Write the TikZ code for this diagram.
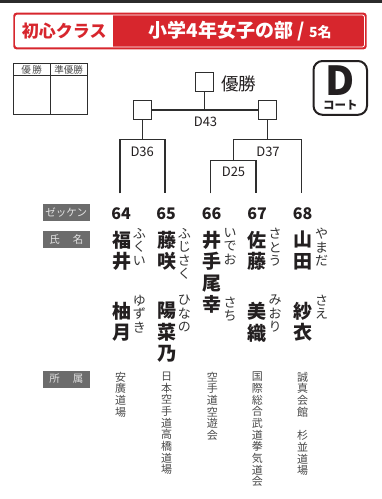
\documentclass[tikz,border=0pt]{standalone}
\usepackage{fontspec}
\setmainfont{Noto Sans CJK JP}
\definecolor{hdrred}{HTML}{D7262D}
\definecolor{topbar}{HTML}{2B2B2B}
\definecolor{tagbg}{HTML}{6C6C6C}
\definecolor{tagfg}{HTML}{E2E2E2}
\definecolor{ink}{HTML}{231F20}
\definecolor{kanac}{HTML}{333333}
\definecolor{affc}{HTML}{4A4A4A}
\definecolor{linec}{HTML}{2E2E2E}
\tikzset{
  wbox/.style={draw=linec, line width=1.2pt, minimum width=18pt, minimum height=19pt, inner sep=0pt, fill=white},
  brk/.style={draw=linec, line width=1.2pt},
  mlabel/.style={font=\fontsize{13}{13}\selectfont, text=ink, inner sep=0pt},
  tagbox/.style={fill=tagbg, text=tagfg, minimum width=47.3pt, minimum height=17pt, inner sep=0pt, font=\fontsize{10.5}{11}\selectfont},
  numtxt/.style={font=\bfseries\fontsize{16}{16}\selectfont, text=ink, inner sep=0pt},
  kanji/.style={anchor=north, inner sep=0pt, align=center, text=ink, font=\bfseries\fontsize{19}{21.5}\selectfont},
  kana/.style={anchor=north, inner sep=0pt, align=center, text=kanac, font=\fontsize{13}{13.3}\selectfont},
  aff/.style={anchor=north, inner sep=0pt, align=center, text=affc, font=\fontsize{11}{11.7}\selectfont},
}
\begin{document}
\begin{tikzpicture}[x=1pt,y=-1pt]
\useasboundingbox (0,0) rectangle (382,499);
\fill[white] (0,0) rectangle (382,499);
% top bar
\fill[topbar] (0,0) rectangle (382,2.7);
% header
\fill[hdrred, rounded corners=3pt] (13.3,12.7) rectangle (366.7,49.3);
\draw[white, line width=0.8pt, rounded corners=2pt] (15.6,15) rectangle (364.4,47);
\fill[white] (15.6,15) rectangle (113.3,47);
\node[text=hdrred, font=\bfseries\fontsize{17}{17}\selectfont, inner sep=0pt] (cls) at (64.2,31) {初心クラス};
\node[text=white, font=\bfseries\fontsize{19}{19}\selectfont, inner sep=0pt] (div) at (240,31) {小学4年女子の部 / {\fontsize{14}{14}\selectfont 5名}};
% result table
\draw[draw=linec, line width=0.8pt] (13.3,63.3) rectangle (87.3,114.3);
\draw[draw=linec, line width=0.8pt] (13.3,75.7) -- (87.3,75.7);
\draw[draw=linec, line width=0.8pt] (50,63.3) -- (50,114.3);
\node[font=\fontsize{9.5}{10}\selectfont, text=affc, inner sep=0pt] (t1) at (31.7,69.8) {優\,勝};
\node[font=\fontsize{9.5}{10}\selectfont, text=affc, inner sep=0pt] (t2) at (68.6,69.8) {準優勝};
% court
\draw[draw=ink, line width=2pt, rounded corners=9pt] (313.5,61) rectangle (367,114.8);
\node[font=\bfseries\fontsize{40}{40}\selectfont, text=ink, inner sep=0pt] (cD) at (340.3,80.3) {D};
\node[font=\bfseries\fontsize{11.5}{12}\selectfont, text=ink, inner sep=0pt] (cK) at (340.3,105) {コート};
% bracket
\node[wbox] (win) at (204.5,82) {};
\node[font=\fontsize{17.5}{18}\selectfont, text=ink, inner sep=0pt, anchor=west] (winl) at (221,83.8) {優勝};
\node[wbox] (sfL) at (142.8,110) {};
\node[wbox] (sfR) at (267.5,110) {};
\coordinate (q36) at (142.8,139.3);
\coordinate (q37) at (267.5,139.3);
\coordinate (q25) at (233.3,160.7);
\coordinate (l64) at (120,193.3);
\coordinate (l65) at (165,193.3);
\coordinate (l66) at (210.7,193.3);
\coordinate (l67) at (256,193.3);
\coordinate (l68) at (301.7,193.3);
\draw[brk] (win.south) -- (win.south |- sfL.east);
\draw[brk] (sfL.east) -- (sfR.west);
\draw[brk] (sfL.south) -- (q36);
\draw[brk] (sfR.south) -- (q37);
\draw[brk] (l64) |- (q36) -| (l65);
\draw[brk] (l66) |- (q25) -| (l67);
\draw[brk] (q25) |- (q37) -| (l68);
\node[mlabel] (m43) at (205.5,122.2) {D43};
\node[mlabel] (m36) at (142.2,151.7) {D36};
\node[mlabel] (m37) at (268,151.7) {D37};
\node[mlabel] (m25) at (233.5,172.3) {D25};
% tags
\node[tagbox] (tagA) at (66.3,212) {ゼッケン};
\node[tagbox] (tagB) at (66.3,239.7) {氏\hspace{13pt}名};
\node[tagbox] (tagC) at (66.3,379) {所\hspace{13pt}属};
% numbers
\node[numtxt] (n64) at (121,213.3) {64};
\node[numtxt] (n65) at (166,213.3) {65};
\node[numtxt] (n66) at (211.5,213.3) {66};
\node[numtxt] (n67) at (257,213.3) {67};
\node[numtxt] (n68) at (302.5,213.3) {68};
% names
\node[kanji] (f64) at (122,231) {福\\井};
\node[kanji] (g64) at (122,302) {柚\\月};
\node[kana] (kf64) at (139.3,228.3) {ふ\\く\\い};
\node[kana] (kg64) at (139.3,295) {ゆ\\ず\\き};
\node[kanji] (f65) at (167,231) {藤\\咲};
\node[kanji] (g65) at (167,302) {陽\\菜\\乃};
\node[kana] (kf65) at (184.3,228.3) {ふ\\じ\\さ\\く};
\node[kana] (kg65) at (184.3,295) {ひ\\な\\の};
\node[kanji] (f66) at (212,231) {井\\手\\尾\\幸};
\node[kana] (kf66) at (230,228.3) {い\\で\\お};
\node[kana] (kg66) at (230,296.7) {さ\\ち};
\node[kanji] (f67) at (257.3,231) {佐\\藤};
\node[kanji] (g67) at (257.3,302) {美\\織};
\node[kana] (kf67) at (275,228.3) {さ\\と\\う};
\node[kana] (kg67) at (275,295) {み\\お\\り};
\node[kanji] (f68) at (302.5,231) {山\\田};
\node[kanji] (g68) at (302.5,302) {紗\\衣};
\node[kana] (kf68) at (321.7,228.3) {や\\ま\\だ};
\node[kana] (kg68) at (321.7,295) {さ\\え};
% affiliations
\node[aff] (a64) at (120.7,371.7) {安\\廣\\道\\場};
\node[aff] (a65) at (166.7,371.7) {日\\本\\空\\手\\道\\高\\橋\\道\\場};
\node[aff] (a66) at (212.3,371.7) {空\\手\\道\\空\\遊\\会};
\node[aff] (a67) at (257.3,371.7) {国\\際\\総\\合\\武\\道\\拳\\気\\道\\会};
\node[aff] (a68) at (302.7,371.7) {誠\\真\\会\\館\\　\\杉\\並\\道\\場};
\end{tikzpicture}
\end{document}
